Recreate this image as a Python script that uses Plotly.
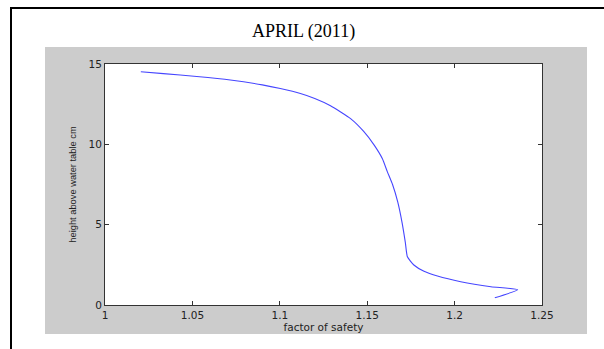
import plotly.graph_objects as go

# Data
factor_of_safety = [1.0205, 1.0334, 1.0525, 1.0717, 1.0900, 1.1003, 1.1118, 1.1200,
                    1.1290, 1.1405, 1.1480, 1.1540, 1.1587, 1.1615, 1.1645, 1.1675,
                    1.1700, 1.1718, 1.1730, 1.1767, 1.1825, 1.1902, 1.2035, 1.2208,
                    1.2361, 1.2230]
height_cm = [14.52, 14.40, 14.22, 14.00, 13.70, 13.47, 13.16, 12.85,
             12.40, 11.60, 10.80, 9.95, 9.10, 8.30, 7.50, 6.40,
             5.10, 3.90, 3.00, 2.49, 2.10, 1.80, 1.45, 1.14,
             0.95, 0.45]

x_ticks = [1, 1.05, 1.1, 1.15, 1.2, 1.25]
x_tick_text = ["1", "1.05", "1.1", "1.15", "1.2", "1.25"]
y_ticks = [0, 5, 10, 15]
y_tick_text = ["0", "5", "10", "15"]

W, H = 604, 349
L, R, T, B = 105, 542, 64, 305  # plot area pixels
pw, ph = R - L, B - T


def px(x):
    return (x - L) / pw


def py(y):
    return (B - y) / ph


fig = go.Figure()
fig.add_trace(go.Scatter(x=factor_of_safety, y=height_cm, mode="lines",
                         line=dict(color="#4646ff", width=1.1, shape="spline", smoothing=0.5),
                         hoverinfo="skip", showlegend=False))

shapes = [
    # outer border
    dict(type="rect", xref="paper", yref="paper", x0=px(11), x1=px(620),
         y0=py(365), y1=py(8), line=dict(color="black", width=2),
         fillcolor="white", layer="below"),
    # grey figure background
    dict(type="rect", xref="paper", yref="paper", x0=px(45), x1=px(587),
         y0=py(334), y1=py(47), line=dict(width=0),
         fillcolor="#cccccc", layer="below"),
    # white axes background
    dict(type="rect", xref="paper", yref="paper", x0=0, x1=1, y0=0, y1=1,
         line=dict(width=0), fillcolor="white", layer="below"),
]

axis_font = dict(family="DejaVu Sans", size=10.5, color="#222222")

fig.update_layout(
    width=W, height=H,
    margin=dict(l=L, r=W - R, t=T, b=H - B, pad=0),
    paper_bgcolor="white",
    plot_bgcolor="white",
    shapes=shapes,
    annotations=[dict(text="APRIL (2011)", xref="paper", yref="paper",
                      x=px(303), y=py(31), xanchor="center", yanchor="middle",
                      showarrow=False,
                      font=dict(family="Liberation Serif", size=18, color="black"))],
    xaxis=dict(range=[1, 1.25], tickvals=x_ticks, ticktext=x_tick_text,
               ticks="inside", ticklen=4, tickcolor="#333333", showgrid=False,
               zeroline=False, showline=True, linecolor="#333333", linewidth=1,
               mirror="ticks", tickfont=axis_font,
               title=dict(text="factor of safety", standoff=2,
                          font=dict(family="DejaVu Sans", size=10.5, color="#222222"))),
    yaxis=dict(range=[0, 15], tickvals=y_ticks, ticktext=y_tick_text,
               ticks="inside", ticklen=4, tickcolor="#333333", showgrid=False,
               zeroline=False, showline=True, linecolor="#333333", linewidth=1,
               mirror="ticks", tickfont=axis_font,
               title=dict(text="height above water table cm", standoff=10,
                          font=dict(family="Liberation Sans", size=9.3, color="#222222"))),
)

fig.write_html("out.html")
